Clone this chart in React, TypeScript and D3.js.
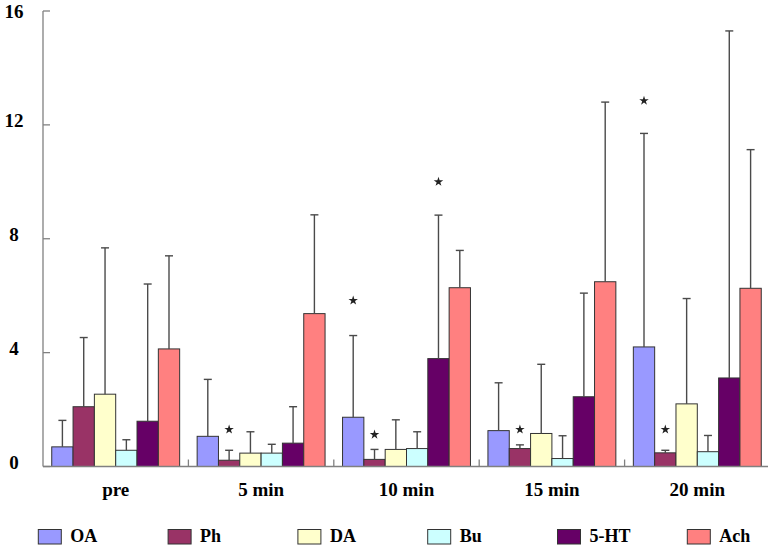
import React from "react";
import * as d3 from "d3";

const categories = ["pre", "5 min", "10 min", "15 min", "20 min"];
const seriesNames = ["OA", "Ph", "DA", "Bu", "5-HT", "Ach"];
const seriesColors = ["#9999FF", "#993366", "#FFFFCC", "#CCFFFF", "#660066", "#FF8080"];

const meanOA = [0.69, 1.06, 1.73, 1.26, 4.2];
const meanPh = [2.1, 0.22, 0.25, 0.63, 0.48];
const meanDA = [2.54, 0.47, 0.6, 1.16, 2.2];
const meanBu = [0.57, 0.47, 0.63, 0.28, 0.52];
const mean5HT = [1.59, 0.82, 3.79, 2.45, 3.11];
const meanAch = [4.13, 5.37, 6.28, 6.49, 6.26];

const sdOA = [0.93, 2.0, 2.87, 1.68, 7.5];
const sdPh = [2.43, 0.35, 0.35, 0.13, 0.09];
const sdDA = [5.14, 0.75, 1.04, 2.43, 3.7];
const sdBu = [0.37, 0.31, 0.59, 0.8, 0.57];
const sd5HT = [4.82, 1.28, 5.04, 3.64, 12.19];
const sdAch = [3.27, 3.47, 1.31, 6.31, 4.87];

const yTicks = [0, 4, 8, 12, 16];

// significance markers
const starCats = ["5 min", "10 min", "10 min", "10 min", "15 min", "20 min", "20 min"];
const starSeries = ["Ph", "OA", "Ph", "5-HT", "Ph", "OA", "Ph"];
const starLevels = [1.3, 5.83, 1.12, 10.0, 1.3, 12.85, 1.3];

const means = [meanOA, meanPh, meanDA, meanBu, mean5HT, meanAch];
const sds = [sdOA, sdPh, sdDA, sdBu, sd5HT, sdAch];

export default function App() {
  const W = 768;
  const H = 550;
  const left = 43;
  const groupW = 145.4;
  const x0 = d3
    .scaleBand<string>()
    .domain(categories)
    .range([left, left + groupW * categories.length])
    .paddingInner(0)
    .paddingOuter(0);
  const x1 = d3
    .scaleBand<string>()
    .domain(seriesNames)
    .range([0, x0.bandwidth()])
    .paddingInner(0)
    .paddingOuter(0.41);
  const y = d3.scaleLinear().domain([0, 16]).range([466.5, 11]);
  const star = d3.symbol().type(d3.symbolStar).size(28)();
  const font = "'Liberation Serif', 'Times New Roman', serif";
  const axisColor = "#808080";

  const legendX = d3.scaleLinear().domain([0, seriesNames.length - 1]).range([38.3, 687.3]);

  return (
    <svg width={W} height={H} style={{ position: "absolute", left: 0, top: 0 }}>
      <rect width={W} height={H} fill="#fff" />
      {seriesNames.map((s, si) =>
        categories.map((c, ci) => {
          const xb = (x0(c) as number) + (x1(s) as number);
          const v = means[si][ci];
          return (
            <rect
              key={s + c}
              x={xb}
              y={y(v)}
              width={x1.bandwidth()}
              height={y(0) - y(v)}
              fill={seriesColors[si]}
              stroke="#333"
              strokeWidth={1}
            />
          );
        })
      )}
      {seriesNames.map((s, si) =>
        categories.map((c, ci) => {
          const xc = (x0(c) as number) + (x1(s) as number) + x1.bandwidth() / 2;
          const v = means[si][ci];
          const top = v + sds[si][ci];
          return (
            <g key={"e" + s + c} stroke="#4a4a4a" strokeWidth={1.4}>
              <line x1={xc} x2={xc} y1={y(v)} y2={y(top)} />
              <line x1={xc - 4} x2={xc + 4} y1={y(top)} y2={y(top)} />
            </g>
          );
        })
      )}
      {starCats.map((c, i) => {
        const xc = (x0(c) as number) + (x1(starSeries[i]) as number) + x1.bandwidth() / 2;
        return (
          <path key={"s" + i} d={star as string} transform={`translate(${xc},${y(starLevels[i])})`} fill="#222" />
        );
      })}
      <line x1={left} x2={left} y1={y(16)} y2={y(0)} stroke={axisColor} strokeWidth={1.3} />
      <line x1={left} x2={W} y1={y(0)} y2={y(0)} stroke={axisColor} strokeWidth={1.3} />
      {yTicks.map((t) => (
        <g key={"yt" + t}>
          <line x1={left} x2={left + 7} y1={y(t)} y2={y(t)} stroke={axisColor} strokeWidth={1.3} />
          <text
            x={14}
            y={Math.max(y(t) - 2, 14)}
            textAnchor="middle"
            dominantBaseline="middle"
            fontFamily={font}
            fontWeight="bold"
            fontSize={19}
            fill="#000"
          >
            {t}
          </text>
        </g>
      ))}
      {categories.slice(1).map((c) => (
        <line
          key={"d" + c}
          x1={x0(c) as number}
          x2={x0(c) as number}
          y1={y(0)}
          y2={y(0) - 7}
          stroke={axisColor}
          strokeWidth={1.3}
        />
      ))}
      {categories.map((c) => (
        <text
          key={"xl" + c}
          x={(x0(c) as number) + x0.bandwidth() / 2}
          y={496}
          textAnchor="middle"
          fontFamily={font}
          fontWeight="bold"
          fontSize={19}
          fill="#000"
        >
          {c}
        </text>
      ))}
      {seriesNames.map((s, i) => (
        <g key={"lg" + s}>
          <rect x={legendX(i)} y={529.5} width={23} height={14.5} fill={seriesColors[i]} stroke="#333" strokeWidth={1} />
          <text x={legendX(i) + 32} y={541.5} fontFamily={font} fontWeight="bold" fontSize={18} fill="#000">
            {s}
          </text>
        </g>
      ))}
    </svg>
  );
}
